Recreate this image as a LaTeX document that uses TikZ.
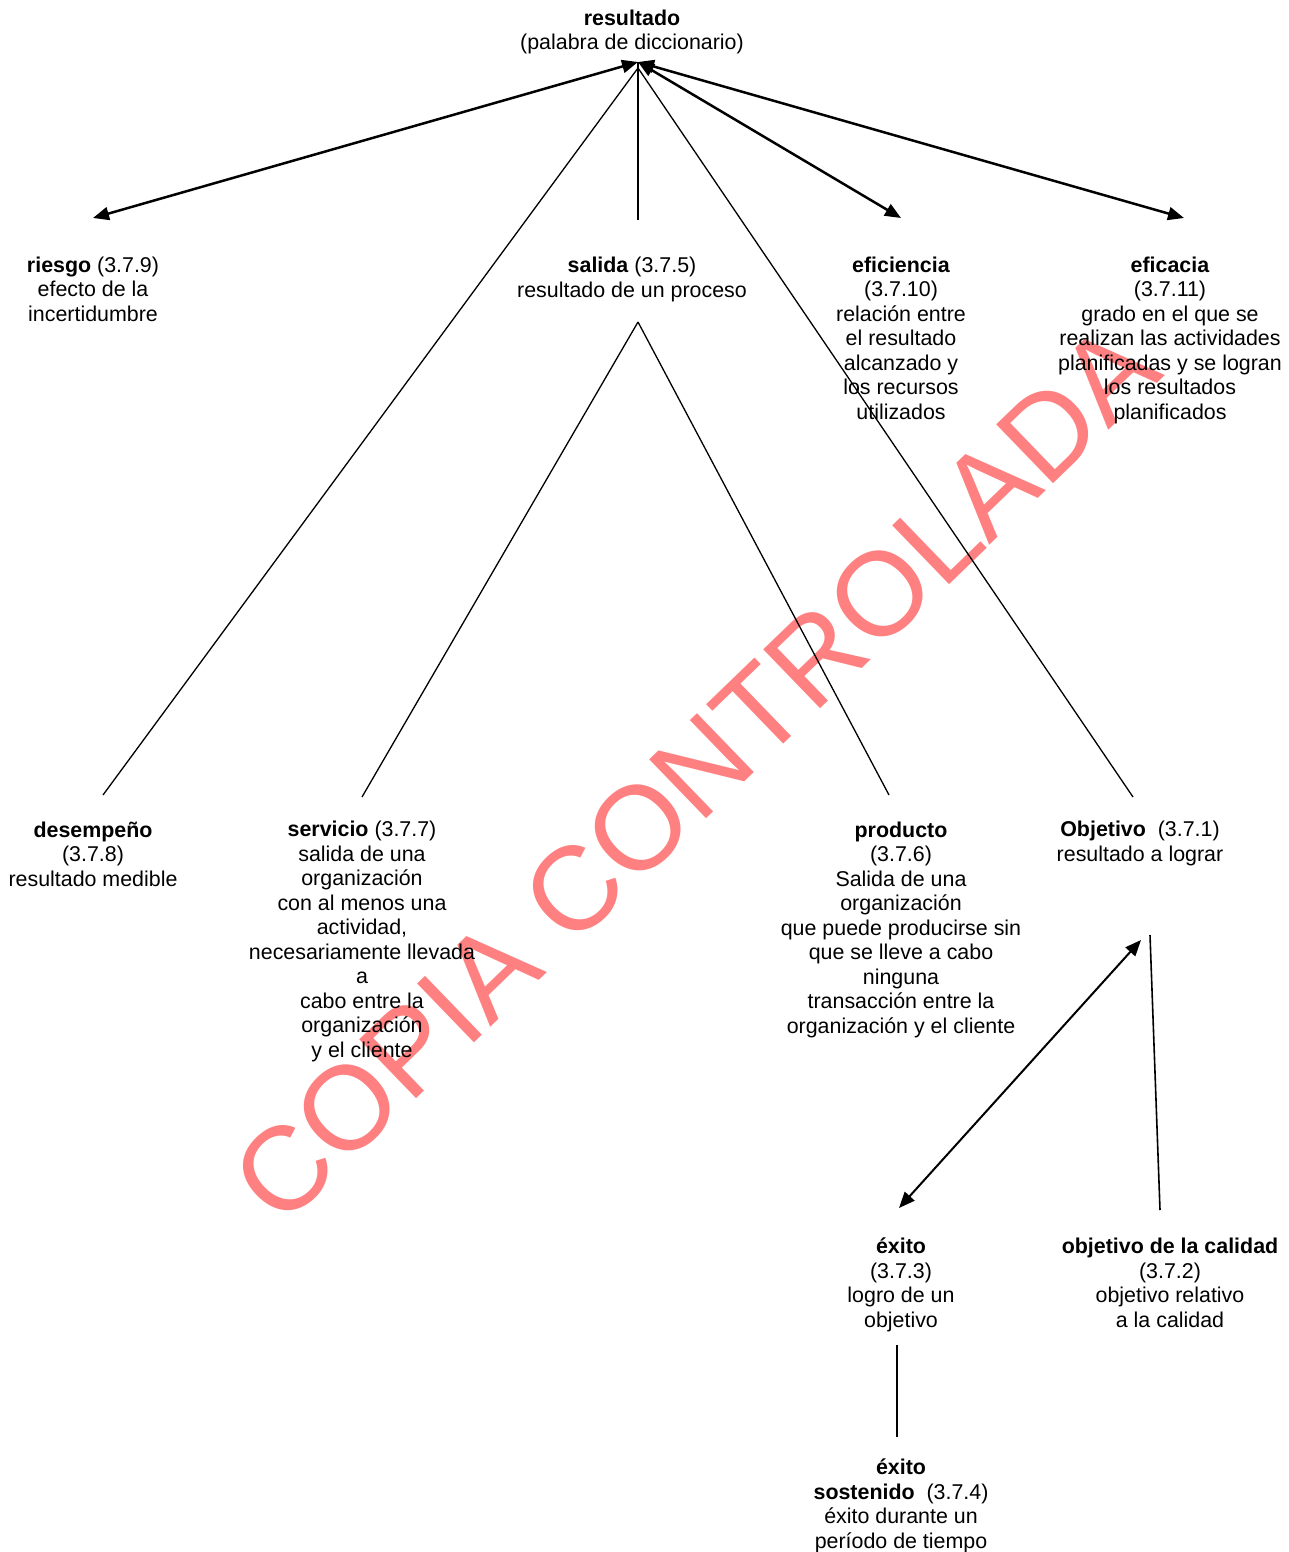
\documentclass[tikz,border=0pt]{standalone}
\usepackage{fontspec}
\setmainfont{Liberation Sans}
\usetikzlibrary{arrows.meta}

\tikzset{
	termino/.style={align=center, anchor=base, inner sep=0pt, font=\fontsize{21.4}{24.5}\selectfont},
	flecha/.style={line width=2.5pt, {Triangle[length=16pt,width=13pt]}-{Triangle[length=16pt,width=13pt]}},
	linea/.style={line width=1.3pt},
}

\begin{document}
\begin{tikzpicture}[x=1pt,y=-1pt]
	\useasboundingbox (0,0) rectangle (1289,1552);
	%\draw[help lines] (0,0) grid[step=100] (1289,1552);
	\node[rotate=44, text=red!50, inner sep=0pt, font=\fontsize{119}{119}\selectfont] (marca) at (695,773) {COPIA CONTROLADA};

	% la base es la linea de base de la ultima fila
	\node[termino] (res) at (632,50) {\textbf{resultado}\\(palabra de diccionario)};
	\node[termino] (riesgo) at (93,321) {\textbf{riesgo} (3.7.9)\\efecto de la\\incertidumbre};
	\node[termino] (salida) at (632,297) {\textbf{salida} (3.7.5)\\resultado de un proceso};
	\node[termino] (eficiencia) at (901,419) {\textbf{eficiencia}\\(3.7.10)\\relación entre\\el resultado\\alcanzado y\\los recursos\\utilizados};
	\node[termino] (eficacia) at (1170,419) {\textbf{eficacia}\\(3.7.11)\\grado en el que se\\realizan las actividades\\planificadas y se logran\\los resultados\\planificados};
	\node[termino] (desempeno) at (93,886) {\textbf{desempeño}\\(3.7.8)\\resultado medible};
	\node[termino] (servicio) at (362,1057) {\textbf{servicio} (3.7.7)\\salida de una\\organización\\con al menos una\\actividad,\\necesariamente llevada\\a\\cabo entre la\\organización\\y el cliente};
	\node[termino] (producto) at (901,1033) {\textbf{producto}\\(3.7.6)\\Salida de una\\organización\\que puede producirse sin\\que se lleve a cabo\\ninguna\\transacción entre la\\organización y el cliente};
	\node[termino] (objetivo) at (1140,861) {\textbf{Objetivo}~ (3.7.1)\\resultado a lograr};
	\node[termino] (exito) at (901,1327) {\textbf{éxito}\\(3.7.3)\\logro de un\\objetivo};
	\node[termino] (objcal) at (1170,1327) {\textbf{objetivo de la calidad}\\(3.7.2)\\objetivo relativo\\a la calidad};
	\node[termino] (sostenido) at (901,1548) {\textbf{éxito}\\\textbf{sostenido}~ (3.7.4)\\éxito durante un\\período de tiempo};

	% puntos de union
	\coordinate (res-s) at (638,62);
	\coordinate (res-s2) at (638,68);
	\coordinate (riesgo-n) at (93,218);
	\coordinate (salida-n) at (638,220);
	\coordinate (salida-s) at (638,322);
	\coordinate (eficiencia-n) at (901,218);
	\coordinate (eficacia-n) at (1184,218);
	\coordinate (desempeno-n) at (103,795);
	\coordinate (servicio-n) at (362,797);
	\coordinate (producto-n) at (889,795);
	\coordinate (objetivo-n) at (1133,797);
	\coordinate (objetivo-s) at (1141,940);
	\coordinate (objetivo-s2) at (1150,935);
	\coordinate (exito-n) at (899,1208);
	\coordinate (exito-s) at (897,1345);
	\coordinate (objcal-n) at (1160,1210);
	\coordinate (sostenido-n) at (897,1437);

	\draw[flecha] (res-s) -- (riesgo-n);
	\draw[flecha] (res-s) -- (eficiencia-n);
	\draw[flecha] (res-s) -- (eficacia-n);
	\draw[line width=2pt] (salida-n) -- (res-s);
	\draw[linea] (res-s2) -- (desempeno-n);
	\draw[linea] (res-s2) -- (objetivo-n);
	\draw[linea] (salida-s) -- (servicio-n);
	\draw[linea] (salida-s) -- (producto-n);
	\draw[flecha, line width=2pt] (objetivo-s) -- (exito-n);
	\draw[line width=1.6pt] (objetivo-s2) -- (objcal-n);
	\draw[line width=1.6pt] (exito-s) -- (sostenido-n);
\end{tikzpicture}
\end{document}
